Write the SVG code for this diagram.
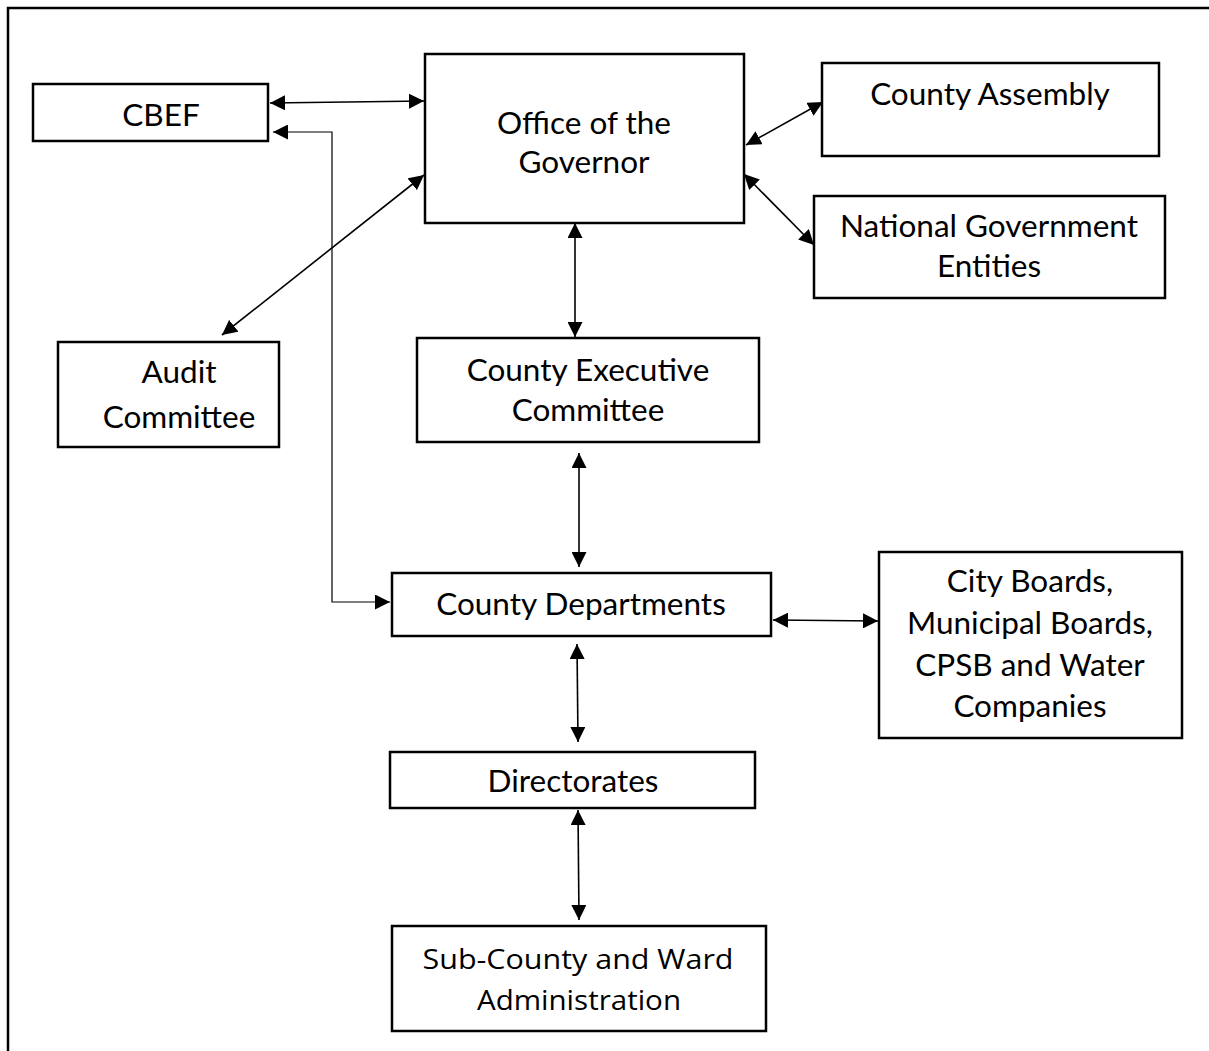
<svg xmlns="http://www.w3.org/2000/svg" width="1209" height="1051" viewBox="0 0 1209 1051">
<defs>
<marker id="ah" viewBox="0 0 10 10" refX="10" refY="5" markerWidth="15" markerHeight="15" markerUnits="userSpaceOnUse" orient="auto-start-reverse">
<path d="M0,0 L10,5 L0,10 Z" fill="#000"/>
</marker>
</defs>
<style>
.box{fill:#fff;stroke:#000;stroke-width:2.5}
.t{font-family:Lato,"Open Sans","Liberation Sans",sans-serif;font-size:31.5px;fill:#000;text-anchor:middle}
.tc{font-family:"Open Sans","Liberation Sans",sans-serif;font-size:28px;fill:#000;text-anchor:middle}
.c{fill:none;stroke:#000;stroke-width:1.6;marker-start:url(#ah);marker-end:url(#ah)}
.cthin{fill:none;stroke:#000;stroke-width:1.2;marker-start:url(#ah);marker-end:url(#ah)}
.frame{fill:none;stroke:#000;stroke-width:2.5}
</style>
<rect width="1209" height="1051" fill="#fff"/>
<path class="frame" d="M8,1051 L8,8 L1209,8"/>
<g id="connectors">
<line class="c" x1="270" y1="103" x2="424" y2="101"/>
<path class="cthin" d="M273,132 L332,132 L332,602 L390,602"/>
<line class="c" x1="424" y1="175" x2="222" y2="335"/>
<line class="c" x1="746" y1="145" x2="823" y2="102"/>
<line class="c" x1="744" y1="174" x2="814" y2="245"/>
<line class="c" x1="575" y1="223" x2="575" y2="337"/>
<line class="c" x1="579" y1="453" x2="579" y2="567"/>
<line class="c" x1="773" y1="620" x2="878" y2="621"/>
<line class="c" x1="577" y1="644" x2="578" y2="742"/>
<line class="c" x1="578" y1="810" x2="579" y2="920"/>
</g>
<g id="cbef"><rect class="box" x="33" y="84" width="235" height="57"/><text class="t" x="161" y="126">CBEF</text></g>
<g id="governor"><rect class="box" x="425" y="54" width="319" height="169"/><text class="t" x="584" y="134">Office of the</text><text class="t" x="584" y="173">Governor</text></g>
<g id="assembly"><rect class="box" x="822" y="63" width="337" height="93"/><text class="t" x="990" y="105">County Assembly</text></g>
<g id="national"><rect class="box" x="814" y="196" width="351" height="102"/><text class="t" x="989" y="237">National Government</text><text class="t" x="989" y="277">Entities</text></g>
<g id="audit"><rect class="box" x="58" y="342" width="221" height="105"/><text class="t" x="179" y="383">Audit</text><text class="t" x="179" y="428">Committee</text></g>
<g id="cec"><rect class="box" x="417" y="338" width="342" height="104"/><text class="t" x="588" y="381">County Executive</text><text class="t" x="588" y="421">Committee</text></g>
<g id="departments"><rect class="box" x="392" y="573" width="379" height="63"/><text class="t" x="581" y="615">County Departments</text></g>
<g id="cityboards"><rect class="box" x="879" y="552" width="303" height="186"/><text class="t" x="1030" y="592">City Boards,</text><text class="t" x="1030" y="634">Municipal Boards,</text><text class="t" x="1030" y="676">CPSB and Water</text><text class="t" x="1030" y="717">Companies</text></g>
<g id="directorates"><rect class="box" x="390" y="752" width="365" height="56"/><text class="t" x="573" y="792">Directorates</text></g>
<g id="subcounty"><rect class="box" x="392" y="926" width="374" height="105"/><text class="tc" x="578" y="969" textLength="311" lengthAdjust="spacingAndGlyphs">Sub-County and Ward</text><text class="tc" x="579" y="1010" textLength="204" lengthAdjust="spacingAndGlyphs">Administration</text></g>
</svg>
